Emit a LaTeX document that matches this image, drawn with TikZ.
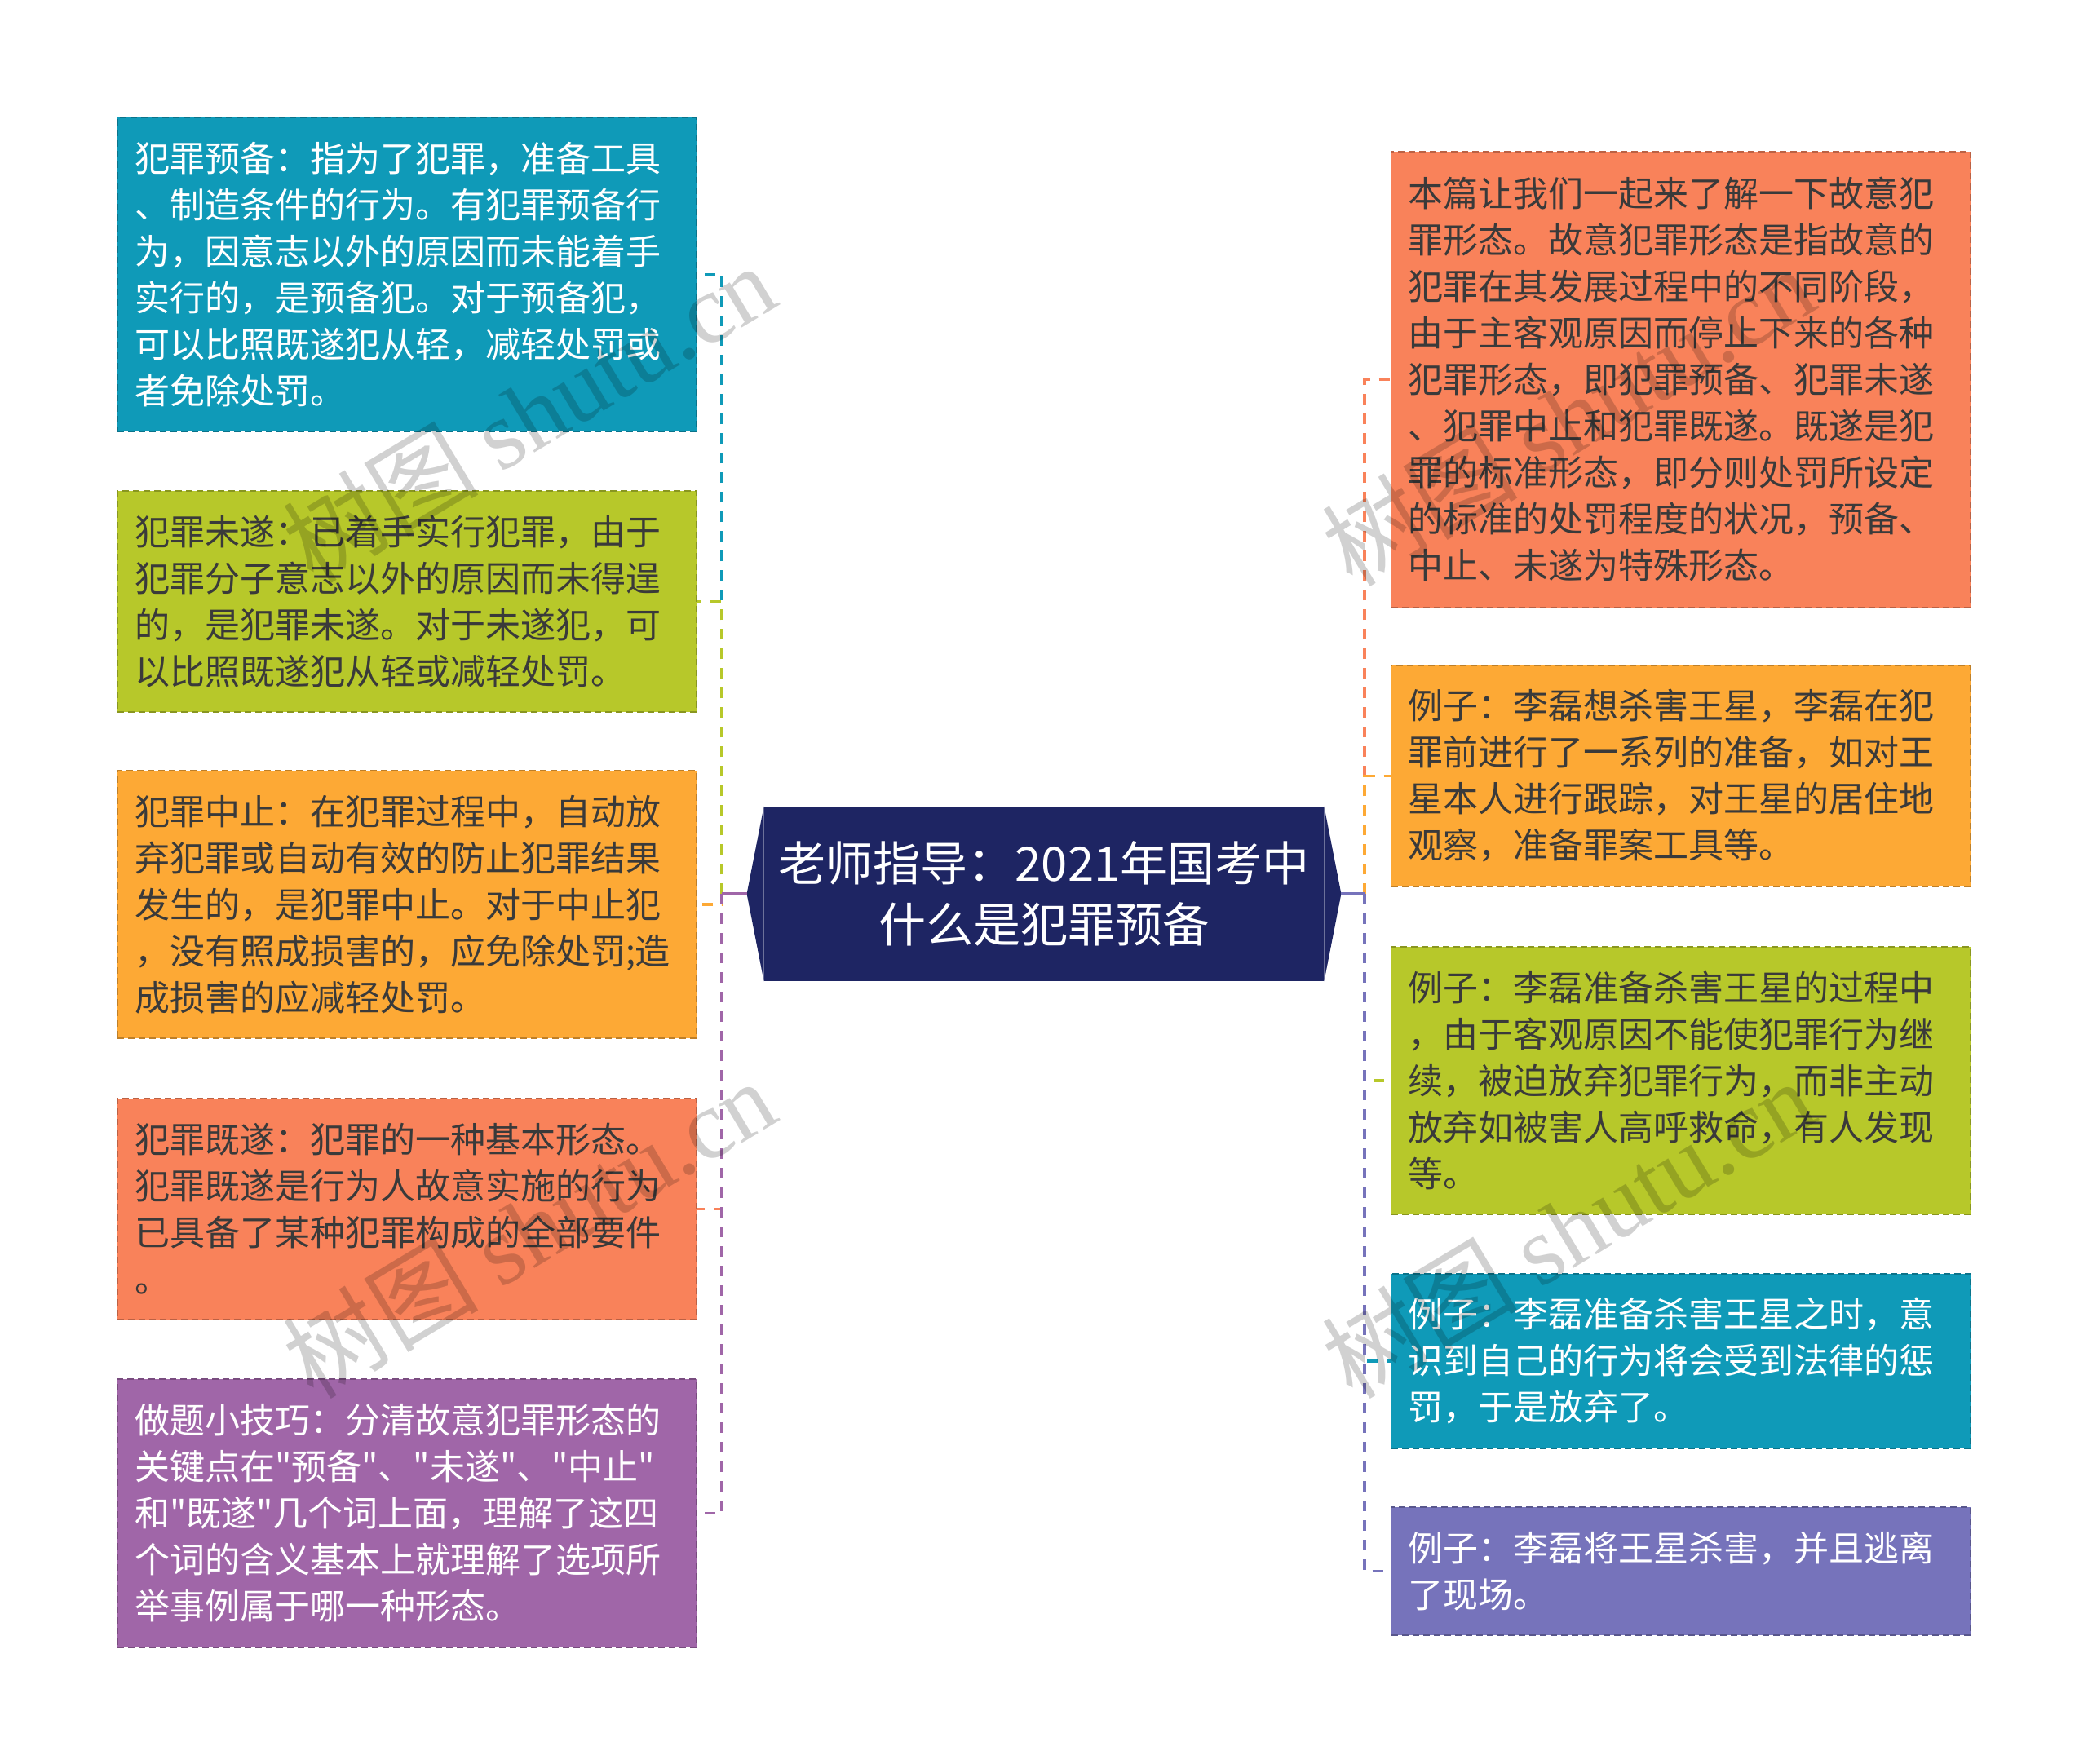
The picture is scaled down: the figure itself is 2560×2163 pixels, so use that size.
\documentclass[tikz,border=0pt]{standalone}
\usepackage{fontspec}
\setmainfont{Noto Sans CJK SC}[Ligatures=TeXOff]
\newfontfamily\wmlatin{Liberation Serif}
\usetikzlibrary{calc}
\definecolor{cteal}{HTML}{0F9AB8}
\definecolor{cgreen}{HTML}{B7C82A}
\definecolor{corange}{HTML}{FDA935}
\definecolor{csalmon}{HTML}{F9825A}
\definecolor{cpurple}{HTML}{A066A8}
\definecolor{cblue}{HTML}{7673BB}
\definecolor{cnavy}{HTML}{1E2563}
\definecolor{ctext}{HTML}{3A3A3A}
\begin{document}
\begin{tikzpicture}[x=0.5pt,y=-0.5pt,
  box/.style={rectangle, inner sep=10.5pt, text width=334pt, align=left,
    font=\fontsize{21.5pt}{28.5pt}\selectfont, line width=0.8pt,
    dash pattern=on 4pt off 2.5pt},
  link/.style={line width=1.9pt, dash pattern=on 6.5pt off 5.5pt},
  stub/.style={line width=1.9pt},
  wm/.style={text=black, opacity=0.18, font=\fontsize{60pt}{60pt}\selectfont, inner sep=0pt},
]
\fill[white] (0,0) rectangle (2560,2163);
\useasboundingbox (0,0) rectangle (2560,2163);

% center
\node[rectangle, fill=cnavy, text=white, minimum width=343pt, minimum height=107pt,
  inner sep=0pt, align=center, font=\fontsize{29pt}{37.5pt}\selectfont] (center) at (1280,1096)
  {老师指导：2021年国考中\\什么是犯罪预备};
\coordinate (hl) at ([xshift=-10.5pt]center.west);
\coordinate (hr) at ([xshift=10.5pt]center.east);
\fill[cnavy] (center.north west) -- (hl) -- (center.south west) -- cycle;
\fill[cnavy] (center.north east) -- (hr) -- (center.south east) -- cycle;
\coordinate (cl) at (885,1096);
\coordinate (cr) at (1673,1096);

% left boxes
\node[box, fill=cteal, draw=cteal!75!black, text=white, minimum height=192.5pt] (L1) at (499,336.5)
{犯罪预备：指为了犯罪，准备工具\\、制造条件的行为。有犯罪预备行\\为，因意志以外的原因而未能着手\\实行的，是预备犯。对于预备犯，\\可以比照既遂犯从轻，减轻处罚或\\者免除处罚。};
\node[box, fill=cgreen, draw=cgreen!75!black, text=ctext, minimum height=135.5pt] (L2) at (499,737.5)
{犯罪未遂：已着手实行犯罪，由于\\犯罪分子意志以外的原因而未得逞\\的，是犯罪未遂。对于未遂犯，可\\以比照既遂犯从轻或减轻处罚。};
\node[box, fill=corange, draw=corange!75!black, text=ctext, minimum height=164pt] (L3) at (499,1109)
{犯罪中止：在犯罪过程中，自动放\\弃犯罪或自动有效的防止犯罪结果\\发生的，是犯罪中止。对于中止犯\\，没有照成损害的，应免除处罚;造\\成损害的应减轻处罚。};
\node[box, fill=csalmon, draw=csalmon!75!black, text=ctext, minimum height=135.5pt] (L4) at (499,1482.5)
{犯罪既遂：犯罪的一种基本形态。\\犯罪既遂是行为人故意实施的行为\\已具备了某种犯罪构成的全部要件\\。};
\node[box, fill=cpurple, draw=cpurple!75!black, text=white, minimum height=164.5pt] (L5) at (499,1855.5)
{做题小技巧：分清故意犯罪形态的\\关键点在"预备"、"未遂"、"中止"\\和"既遂"几个词上面，理解了这四\\个词的含义基本上就理解了选项所\\举事例属于哪一种形态。};

% right boxes
\node[box, fill=csalmon, draw=csalmon!75!black, text=ctext, minimum height=279.5pt] (R1) at (2060.5,465.5)
{本篇让我们一起来了解一下故意犯\\罪形态。故意犯罪形态是指故意的\\犯罪在其发展过程中的不同阶段，\\由于主客观原因而停止下来的各种\\犯罪形态，即犯罪预备、犯罪未遂\\、犯罪中止和犯罪既遂。既遂是犯\\罪的标准形态，即分则处罚所设定\\的标准的处罚程度的状况，预备、\\中止、未遂为特殊形态。};
\node[box, fill=corange, draw=corange!75!black, text=ctext, minimum height=135.5pt] (R2) at (2060.5,951.5)
{例子：李磊想杀害王星，李磊在犯\\罪前进行了一系列的准备，如对王\\星本人进行跟踪，对王星的居住地\\观察，准备罪案工具等。};
\node[box, fill=cgreen, draw=cgreen!75!black, text=ctext, minimum height=164pt] (R3) at (2060.5,1325)
{例子：李磊准备杀害王星的过程中\\，由于客观原因不能使犯罪行为继\\续，被迫放弃犯罪行为，而非主动\\放弃如被害人高呼救命，有人发现\\等。};
\node[box, fill=cteal, draw=cteal!75!black, text=white, minimum height=107pt] (R4) at (2060.5,1669)
{例子：李磊准备杀害王星之时，意\\识到自己的行为将会受到法律的惩\\罚，于是放弃了。};
\node[box, fill=cblue, draw=cblue!75!black, text=white, minimum height=78.5pt] (R5) at (2060.5,1926.5)
{例子：李磊将王星杀害，并且逃离\\了现场。};

% connectors left
\draw[link, cteal] (cl) |- (L1.east);
\draw[link, cgreen] (cl) |- (L2.east);
\draw[link, corange] (cl) |- (L3.east);
\draw[link, csalmon] (cl) |- (L4.east);
\draw[link, cpurple] (cl) |- (L5.east);
\draw[stub, cpurple] (hl) -- (cl);
% connectors right
\draw[link, csalmon] (cr) |- (R1.west);
\draw[link, corange] (cr) |- (R2.west);
\draw[link, cgreen] (cr) |- (R3.west);
\draw[link, cteal] (cr) |- (R4.west);
\draw[link, cblue] (cr) |- (R5.west);
\draw[stub, cblue] (hr) -- (cr);

% watermarks
\node[wm, rotate=31] (wm1) at (648,506) {树图 {\wmlatin shutu.cn}};
\node[wm, rotate=31] (wm2) at (648,1506) {树图 {\wmlatin shutu.cn}};
\node[wm, rotate=31] (wm3) at (1922,510) {树图 {\wmlatin shutu.cn}};
\node[wm, rotate=31] (wm4) at (1922,1506) {树图 {\wmlatin shutu.cn}};
\end{tikzpicture}
\end{document}
